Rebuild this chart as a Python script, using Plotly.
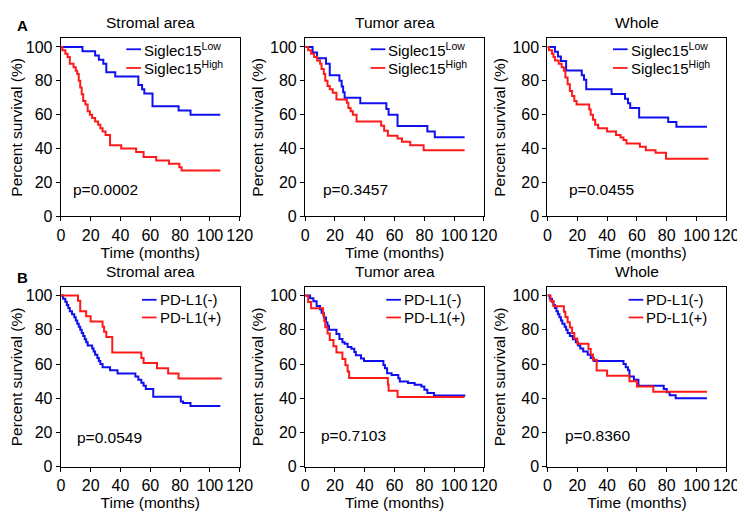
import plotly.graph_objects as go

# ---- Siglec15 (panel A) ----
a_stromal_low_t = [0, 14.5, 23, 25.5, 28.5, 30.5, 36.5, 52, 54.5, 56, 61.5, 79, 87, 107]
a_stromal_low_s = [100, 97.5, 95, 92.5, 90, 85, 82.5, 77.5, 75, 72.5, 65, 62.5, 60, 60]
a_stromal_high_t = [0, 1, 3, 4.5, 6, 8.5, 10, 11, 12, 13, 14, 15, 16.5, 18, 19.5, 21, 23, 25,
                    26.5, 28, 30, 33, 40.5, 50.5, 55.5, 64, 72.5, 79.5, 81, 107]
a_stromal_high_s = [100, 98, 96, 94, 90, 88, 86, 84, 80, 76, 72, 68, 66, 62, 60, 58, 56, 54,
                    52, 50, 48, 42, 40, 38, 35, 33, 31, 29, 27, 27]

a_tumor_low_t = [0, 5, 8, 14, 16.5, 23, 24.5, 25.5, 26.5, 37, 54.5, 56, 62, 82, 87, 107]
a_tumor_low_s = [100, 96.7, 93.3, 90, 83.3, 80, 76.7, 73.3, 70, 66.7, 63.3, 60, 53.3, 50, 46.7, 46.7]
a_tumor_high_t = [0, 2, 4, 6, 8, 10, 11, 12.5, 13.5, 15, 16.5, 18.5, 21, 28, 29, 30.5, 32, 34.5,
                  51, 53, 55.5, 62, 65, 70.5, 79.5, 107]
a_tumor_high_s = [100, 98, 96, 94, 92, 90, 87, 84, 80, 77, 75, 73, 69, 67, 64, 62, 60, 56,
                  53.5, 50.5, 47.5, 46, 44, 42, 39, 39]

a_whole_low_t = [0, 5, 7, 9, 12.5, 23, 24.5, 26, 43, 52, 54, 55.5, 61.5, 81, 86.5, 107]
a_whole_low_s = [100, 97.2, 94.4, 91.7, 86.1, 83.3, 80.6, 75, 72.2, 69.4, 66.7, 63.9, 58.3, 55.6, 52.8, 52.8]
a_whole_high_t = [0, 1, 3, 4, 5, 7.5, 9.5, 11, 12, 13.5, 15, 16.5, 18, 19.5, 28, 29, 30.5, 32,
                  34, 40, 46, 49, 51, 53, 62, 66, 72.5, 79.5, 108]
a_whole_high_s = [100, 98, 96, 94, 92, 90, 88, 86, 82, 78, 74, 71, 68, 66, 63, 60, 57, 54,
                  52, 50, 48, 46.5, 45, 43, 41, 39, 37.5, 34, 34]

# ---- PD-L1 (panel B) ----
b_stromal_neg_t = [0, 1.5, 3, 4, 5, 6, 7.5, 9, 10, 11, 12, 13, 14, 15, 16, 17, 18, 21, 22, 23,
                   24.5, 25.5, 26.5, 28, 33, 38, 50, 52, 54, 55.5, 57, 62, 80.5, 82, 87, 107]
b_stromal_neg_s = [100, 98.2, 96.4, 94.5, 92.7, 90.9, 89.1, 87.3, 85.5, 83.6, 81.8, 80, 78.2,
                   76.4, 74.5, 72.7, 70.9, 69.1, 67.3, 65.5, 63.6, 61.8, 60, 58.2, 56.4, 54.5,
                   52.7, 50.9, 49.1, 47.3, 45.5, 40.9, 38.2, 37.3, 35.5, 35.5]
b_stromal_pos_t = [0, 11.5, 13, 17, 20, 28, 29, 30.5, 34.5, 54, 55.5, 64.5, 72, 79, 108]
b_stromal_pos_s = [100, 97, 90.9, 87.9, 84.8, 81.8, 78.8, 75.8, 66.7, 63.6, 60.6, 57.6, 54.5, 51.5, 51.5]

b_tumor_neg_t = [0, 3.3, 5.5, 7.7, 10, 11, 12.5, 14, 15, 16, 21, 23, 25, 26.5, 28.5, 31, 33,
                 34, 37.5, 39.5, 52.5, 53.5, 55, 58, 62.5, 63.5, 69, 73.5, 78, 80, 82, 86.5, 107.5]
b_tumor_neg_s = [100, 98.5, 96.7, 93.9, 92, 90, 87.2, 84.3, 82.4, 80, 77.6, 74.7, 72.8, 71.8,
                 69.9, 69, 67, 65.1, 63.2, 61.8, 59.4, 57.5, 54.6, 53.6, 51.7, 49.8, 48.9, 47.9,
                 46.9, 45, 43.1, 41.6, 41.6]
b_tumor_pos_t = [0, 2, 4, 12, 12.8, 13.5, 15, 16.5, 19, 21, 25, 27, 28.5, 29.5, 55.5, 56, 62, 107]
b_tumor_pos_s = [100, 96.3, 92.6, 88.9, 85.2, 81.5, 77.8, 74.1, 70.4, 66.7, 63, 59.3, 55.6,
                 51.9, 48.1, 44.4, 40.7, 40.7]

b_whole_neg_t = [0, 1.5, 3, 4, 5, 6, 7, 8, 9, 10, 11.5, 12.5, 13.5, 15, 17, 19, 20.5, 22, 24,
                 27, 29, 31, 51, 52.5, 54, 55, 58, 61, 78, 80, 82, 86, 107]
b_whole_neg_s = [100, 98.2, 96.4, 94.5, 92.7, 90.9, 89.1, 87.3, 85.5, 83.6, 81.8, 80, 78.2,
                 76.4, 74.5, 72.7, 70.9, 69.1, 67.3, 65.5, 63.6, 61.8, 60, 58.2, 56.4, 52.7,
                 50.9, 47.3, 45.5, 43.6, 41.8, 40, 40]
b_whole_pos_t = [0, 2, 4, 11, 12, 13.5, 15, 16.5, 18, 20, 27.5, 29, 30.5, 33, 40, 55, 60, 71, 107]
b_whole_pos_s = [100, 96.9, 93.8, 90.6, 87.5, 84.4, 81.3, 78.1, 75, 71.9, 68.8, 65.6, 62.5,
                 56.3, 53.1, 50, 46.9, 43.8, 43.8]

titles = ['Stromal area', 'Tumor area', 'Whole']
p_values = ['p=0.0002', 'p=0.3457', 'p=0.0455', 'p=0.0549', 'p=0.7103', 'p=0.8360']
p_pos = [(7, 16), (10.5, 16), (13, 16), (9.5, 17), (9.5, 18), (10.5, 18)]
siglec_names = ['Siglec15<sup>Low</sup>', 'Siglec15<sup>High</sup>']
pdl1_names = ['PD-L1(-)', 'PD-L1(+)']

FONT = 'Liberation Sans, Arial, sans-serif'
BLUE = '#1010ee'
RED = '#ff1a1a'
W, H = 745, 512

# plot boxes in pixels (left, right) and (top, bottom)
COLS = [(50, 233), (300, 483), (548, 731)]
ROWS = [(31, 212), (284, 467)]


def font(size=15):
    return {'size': size, 'color': 'black', 'family': FONT}


def addLegend(fig, x1, y0, names, inset, rows):
    # hand-drawn legend: short line sample followed by the group name
    for name, color, dy in zip(names, [BLUE, RED], rows):
        lx = x1 - inset
        ly = y0 + dy
        fig.add_shape(type='line', xref='paper', yref='paper',
                      x0=lx / W, x1=(lx + 15) / W, y0=1 - ly / H, y1=1 - ly / H,
                      line={'color': color, 'width': 1.8})
        fig.add_annotation(x=(lx + 16) / W, y=1 - ly / H, xref='paper',
                           yref='paper', text=name, showarrow=False,
                           xanchor='left', yanchor='middle', font=font(15))


def addPanel(fig, idx, curves, names):
    row, col = divmod(idx, 3)
    n = idx + 1
    xa = 'x' if n == 1 else f'x{n}'
    ya = 'y' if n == 1 else f'y{n}'
    for (t, s), name, color in zip(curves, names, [BLUE, RED]):
        fig.add_trace(go.Scatter(
            x=t, y=s, name=name, mode='lines', line_shape='hv',
            line={'color': color, 'width': 2}, xaxis=xa, yaxis=ya,
            showlegend=False, hoverinfo='skip'))

    x0, x1 = COLS[col]
    y0, y1 = ROWS[row]
    axis = dict(showline=True, linecolor='black', linewidth=1.4, mirror=True,
                ticks='outside', ticklen=4, tickwidth=1.4, tickcolor='black',
                showgrid=False, zeroline=False, tickfont=font(16))
    sfx = str(n) if n > 1 else ''
    fig.layout['xaxis' + sfx] = dict(
        axis, domain=[x0 / W, x1 / W], range=[0, 120], tick0=0, dtick=20,
        anchor=ya, title={'text': 'Time (months)', 'standoff': 0,
                          'font': font(15.5)})
    fig.layout['yaxis' + sfx] = dict(
        axis, domain=[1 - y1 / H, 1 - y0 / H], range=[0, 105], tick0=0, dtick=20,
        anchor=xa, title={'text': 'Percent survival (%)', 'standoff': 2,
                          'font': font(15.5)})

    if idx < 3:
        addLegend(fig, x1, y0, names, 116, (11, 30))
    else:
        addLegend(fig, x1, y0, names, 100, (13, 31))

    px, py = p_pos[idx]
    fig.add_annotation(x=px, y=py, xref=xa, yref=ya, text=p_values[idx],
                       showarrow=False, xanchor='left', yanchor='middle',
                       font=font(15.5))
    fig.add_annotation(x=(x0 + x1) / 2 / W, y=1 - (y0 - 16) / H, xref='paper',
                       yref='paper', text=titles[col], showarrow=False,
                       xanchor='center', yanchor='middle', font=font(15.5))


def main():
    fig = go.Figure()
    panels = [
        [(a_stromal_low_t, a_stromal_low_s), (a_stromal_high_t, a_stromal_high_s)],
        [(a_tumor_low_t, a_tumor_low_s), (a_tumor_high_t, a_tumor_high_s)],
        [(a_whole_low_t, a_whole_low_s), (a_whole_high_t, a_whole_high_s)],
        [(b_stromal_neg_t, b_stromal_neg_s), (b_stromal_pos_t, b_stromal_pos_s)],
        [(b_tumor_neg_t, b_tumor_neg_s), (b_tumor_pos_t, b_tumor_pos_s)],
        [(b_whole_neg_t, b_whole_neg_s), (b_whole_pos_t, b_whole_pos_s)],
    ]
    for i, curves in enumerate(panels):
        addPanel(fig, i, curves, siglec_names if i < 3 else pdl1_names)

    # panel letters
    for letter, ytop in (('A', 7), ('B', 264)):
        fig.add_annotation(x=3 / W, y=1 - ytop / H, xref='paper', yref='paper',
                           text=f'<b>{letter}</b>', showarrow=False,
                           xanchor='left', yanchor='top', font=font(15))

    fig.update_layout(width=W, height=H, margin=dict(l=0, r=0, t=0, b=0),
                      plot_bgcolor='white', paper_bgcolor='white',
                      showlegend=False)
    fig.write_html('out.html')


if __name__ == '__main__':
    main()
